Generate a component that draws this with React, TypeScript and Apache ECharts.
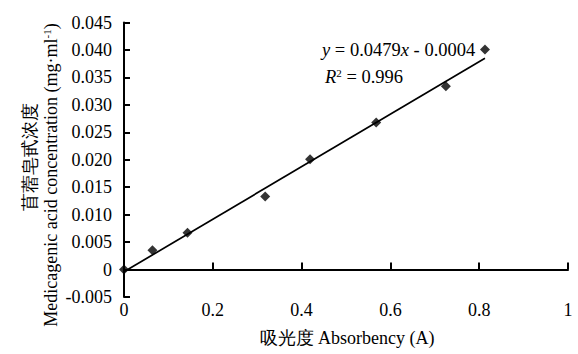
import React, { useEffect, useRef } from "react";
import * as echarts from "echarts";

const absorbency = [0, 0.064, 0.143, 0.318, 0.419, 0.568, 0.725, 0.813];
const concentration = [0, 0.0035, 0.0067, 0.0133, 0.0201, 0.0268, 0.0334, 0.0401];
const trendX = [0, 0.813];
const trendY = [-0.0004, 0.0385];
const equationText = ["{i|y} = 0.0479{i|x} - 0.0004", "{i|R}{s|2} = 0.996"];
const xTitle = "吸光度 Absorbency (A)";
const yTitleCn = "苜蓿皂甙浓度";
const yTitleEn = "{n|Medicagenic acid concentration (mg·ml}{s|-1}{n|)}";

const FONT = "Liberation Serif";

export default function App() {
  const ref = useRef<HTMLDivElement>(null);
  useEffect(() => {
    document.body.style.margin = "0";
    const chart = echarts.init(ref.current!, null, { renderer: "svg" });
    const scatter = absorbency.map((x, i) => [x, concentration[i]]);
    const trend = trendX.map((x, i) => [x, trendY[i]]);
    chart.setOption({
      animation: false,
      backgroundColor: "#ffffff",
      textStyle: { fontFamily: FONT },
      grid: { left: 124, right: 10, top: 22.5, bottom: 57, containLabel: false },
      xAxis: [
        {
          type: "value",
          min: 0,
          max: 1,
          interval: 0.2,
          axisLine: { show: false, onZero: false },
          axisTick: { show: false },
          splitLine: { show: false },
          axisLabel: {
            margin: 4,
            color: "#000",
            fontSize: 18,
            fontFamily: FONT,
            formatter: (v: number) => (v === 0 ? "0" : v === 1 ? "1" : v.toFixed(1)),
          },
        },
        {
          type: "value",
          min: 0,
          max: 1,
          interval: 0.2,
          position: "bottom",
          axisLine: { show: true, onZero: true, lineStyle: { color: "#000", width: 2 } },
          axisTick: { show: true, inside: true, length: 7, lineStyle: { color: "#000", width: 2 } },
          axisLabel: { show: false },
          splitLine: { show: false },
        },
      ],
      yAxis: {
        type: "value",
        min: -0.005,
        max: 0.045,
        interval: 0.005,
        axisLine: { show: true, onZero: false, lineStyle: { color: "#000", width: 2 } },
        axisTick: { show: true, inside: true, length: 6, lineStyle: { color: "#000", width: 2 } },
        splitLine: { show: false },
        axisLabel: {
          margin: 12,
          color: "#000",
          fontSize: 18,
          fontFamily: FONT,
          formatter: (v: number) => (Math.abs(v) < 1e-9 ? "0" : v.toFixed(3)),
        },
      },
      series: [
        {
          type: "line",
          data: trend,
          showSymbol: false,
          symbol: "none",
          lineStyle: { color: "#000", width: 1.7 },
          z: 2,
        },
        {
          type: "scatter",
          data: scatter,
          symbol: "diamond",
          symbolSize: 10,
          itemStyle: { color: "#000" },
          z: 3,
        },
      ],
      graphic: [
        {
          type: "text",
          x: 322,
          y: 50,
          style: {
            text: equationText[0],
            fontSize: 18.5,
            fontFamily: FONT,
            fill: "#000",
            textVerticalAlign: "middle",
            rich: {
              i: { fontStyle: "italic", fontSize: 18.5, fontFamily: FONT, fill: "#000" },
            },
          },
        },
        {
          type: "text",
          x: 325,
          y: 77,
          style: {
            text: equationText[1],
            fontSize: 18.5,
            fontFamily: FONT,
            fill: "#000",
            textVerticalAlign: "middle",
            rich: {
              i: { fontStyle: "italic", fontSize: 18.5, fontFamily: FONT, fill: "#000", lineHeight: 20 },
              s: { fontSize: 11, fontFamily: FONT, fill: "#000", verticalAlign: "top", lineHeight: 12 },
            },
          },
        },
        {
          type: "text",
          x: 347,
          y: 338,
          style: {
            text: xTitle,
            fontSize: 18,
            fontFamily: FONT,
            fill: "#000",
            textAlign: "center",
            textVerticalAlign: "middle",
          },
        },
        {
          type: "text",
          x: 30,
          y: 157,
          rotation: Math.PI / 2,
          style: {
            text: yTitleCn,
            fontSize: 18,
            fontFamily: FONT,
            fill: "#000",
            textAlign: "center",
            textVerticalAlign: "middle",
          },
        },
        {
          type: "text",
          x: 51,
          y: 175,
          rotation: Math.PI / 2,
          style: {
            text: yTitleEn,
            fontSize: 18,
            fontFamily: FONT,
            fill: "#000",
            textAlign: "center",
            textVerticalAlign: "middle",
            rich: {
              n: { fontSize: 18, fontFamily: FONT, fill: "#000", lineHeight: 20 },
              s: { fontSize: 11, fontFamily: FONT, fill: "#000", verticalAlign: "top", lineHeight: 12 },
            },
          },
        },
      ],
    });
    return () => chart.dispose();
  }, []);
  return <div ref={ref} style={{ width: 578, height: 354 }} />;
}
